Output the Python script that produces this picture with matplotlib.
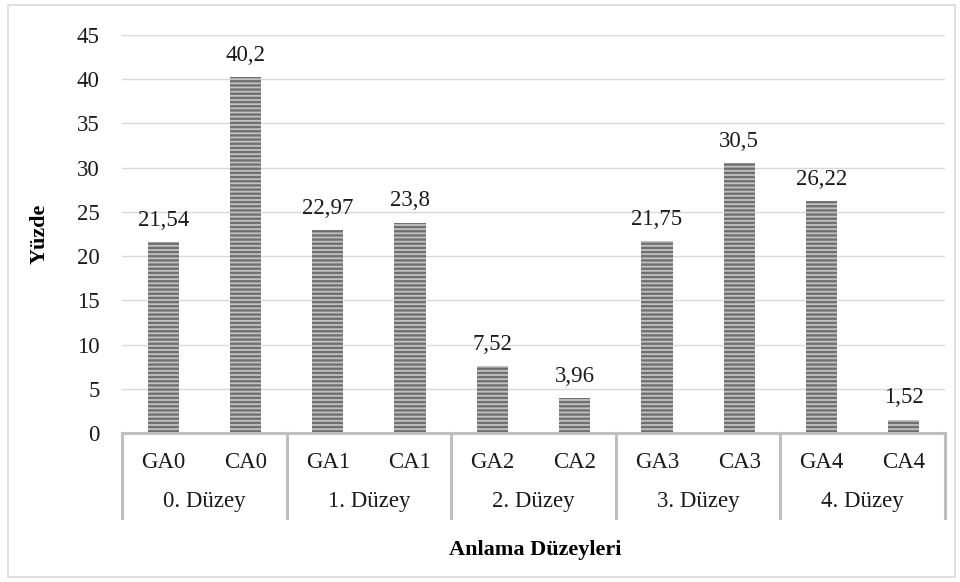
import matplotlib
matplotlib.use("Agg")
import matplotlib.pyplot as plt
from matplotlib.patches import Rectangle

categories = ["GA0", "CA0", "GA1", "CA1", "GA2", "CA2", "GA3", "CA3", "GA4", "CA4"]
groups = ["0. Düzey", "1. Düzey", "2. Düzey", "3. Düzey", "4. Düzey"]
values = [21.54, 40.2, 22.97, 23.8, 7.52, 3.96, 21.75, 30.5, 26.22, 1.52]
labels = ["21,54", "40,2", "22,97", "23,8", "7,52", "3,96", "21,75", "30,5", "26,22", "1,52"]
yticks = [0, 5, 10, 15, 20, 25, 30, 35, 40, 45]

plt.rcParams['font.family'] = ['Liberation Serif', 'DejaVu Serif']
plt.rcParams['hatch.linewidth'] = 1.7

FS = 16.5

fig = plt.figure(figsize=(9.6, 5.82), dpi=100)
ax = fig.add_axes([122/960, 1 - 433/582, (945-122)/960, (433-35)/582])

x = list(range(len(categories)))
ax.bar(x, values, width=0.38, color='#c2c2c2', edgecolor='#707070', linewidth=0, hatch='----', zorder=3)

for xi, v, lab in zip(x, values, labels):
    ax.annotate(lab, (xi, v), xytext=(0, 8), textcoords='offset points',
                ha='center', va='bottom', fontsize=FS, color='#1a1a1a')

ax.set_xlim(-0.5, len(categories) - 0.5)
ax.set_ylim(0, 45)
ax.set_yticks(yticks)
ax.set_yticklabels([str(t) for t in yticks], fontsize=FS, color='#1a1a1a')
ax.tick_params(axis='y', length=0, pad=16)
ax.set_xticks([])
ax.grid(axis='y', color='#d9d9d9', linewidth=1, zorder=0)
for s in ax.spines.values():
    s.set_visible(False)

# category axis
sep_bottom = -(518 - 433) / 398
ax.plot([0, 1], [0, 0], transform=ax.transAxes, color='#bfbfbf', lw=2.2, clip_on=False, zorder=4)
for i in range(len(groups) + 1):
    xa = i / len(groups)
    ax.plot([xa, xa], [0, sep_bottom], transform=ax.transAxes, color='#bfbfbf', lw=2.2, clip_on=False)
sub_y = -(462 - 433) / 398
grp_y = -(502 - 433) / 398
for xi, c in zip(x, categories):
    ax.text((xi + 0.5) / len(categories), sub_y, c, transform=ax.transAxes,
            ha='center', va='center', fontsize=FS, color='#1a1a1a')
for gi, g in enumerate(groups):
    ax.text((gi + 0.5) / len(groups), grp_y, g, transform=ax.transAxes,
            ha='center', va='center', fontsize=FS, color='#1a1a1a')

fig.text(535/960, 1 - 550/582, "Anlama Düzeyleri", ha='center', va='center',
         fontsize=FS - 0.5, fontweight='bold')
fig.text(40/960, 1 - 234/582, "Yüzde", ha='center', va='center', rotation=90,
         fontsize=FS - 0.5, fontweight='bold')

fig.add_artist(Rectangle((8/960, 5/582), (955-8)/960, (577-5)/582, transform=fig.transFigure,
                         fill=False, edgecolor='#d9d9d9', lw=1.2))

fig.savefig("out.png", dpi=100)
